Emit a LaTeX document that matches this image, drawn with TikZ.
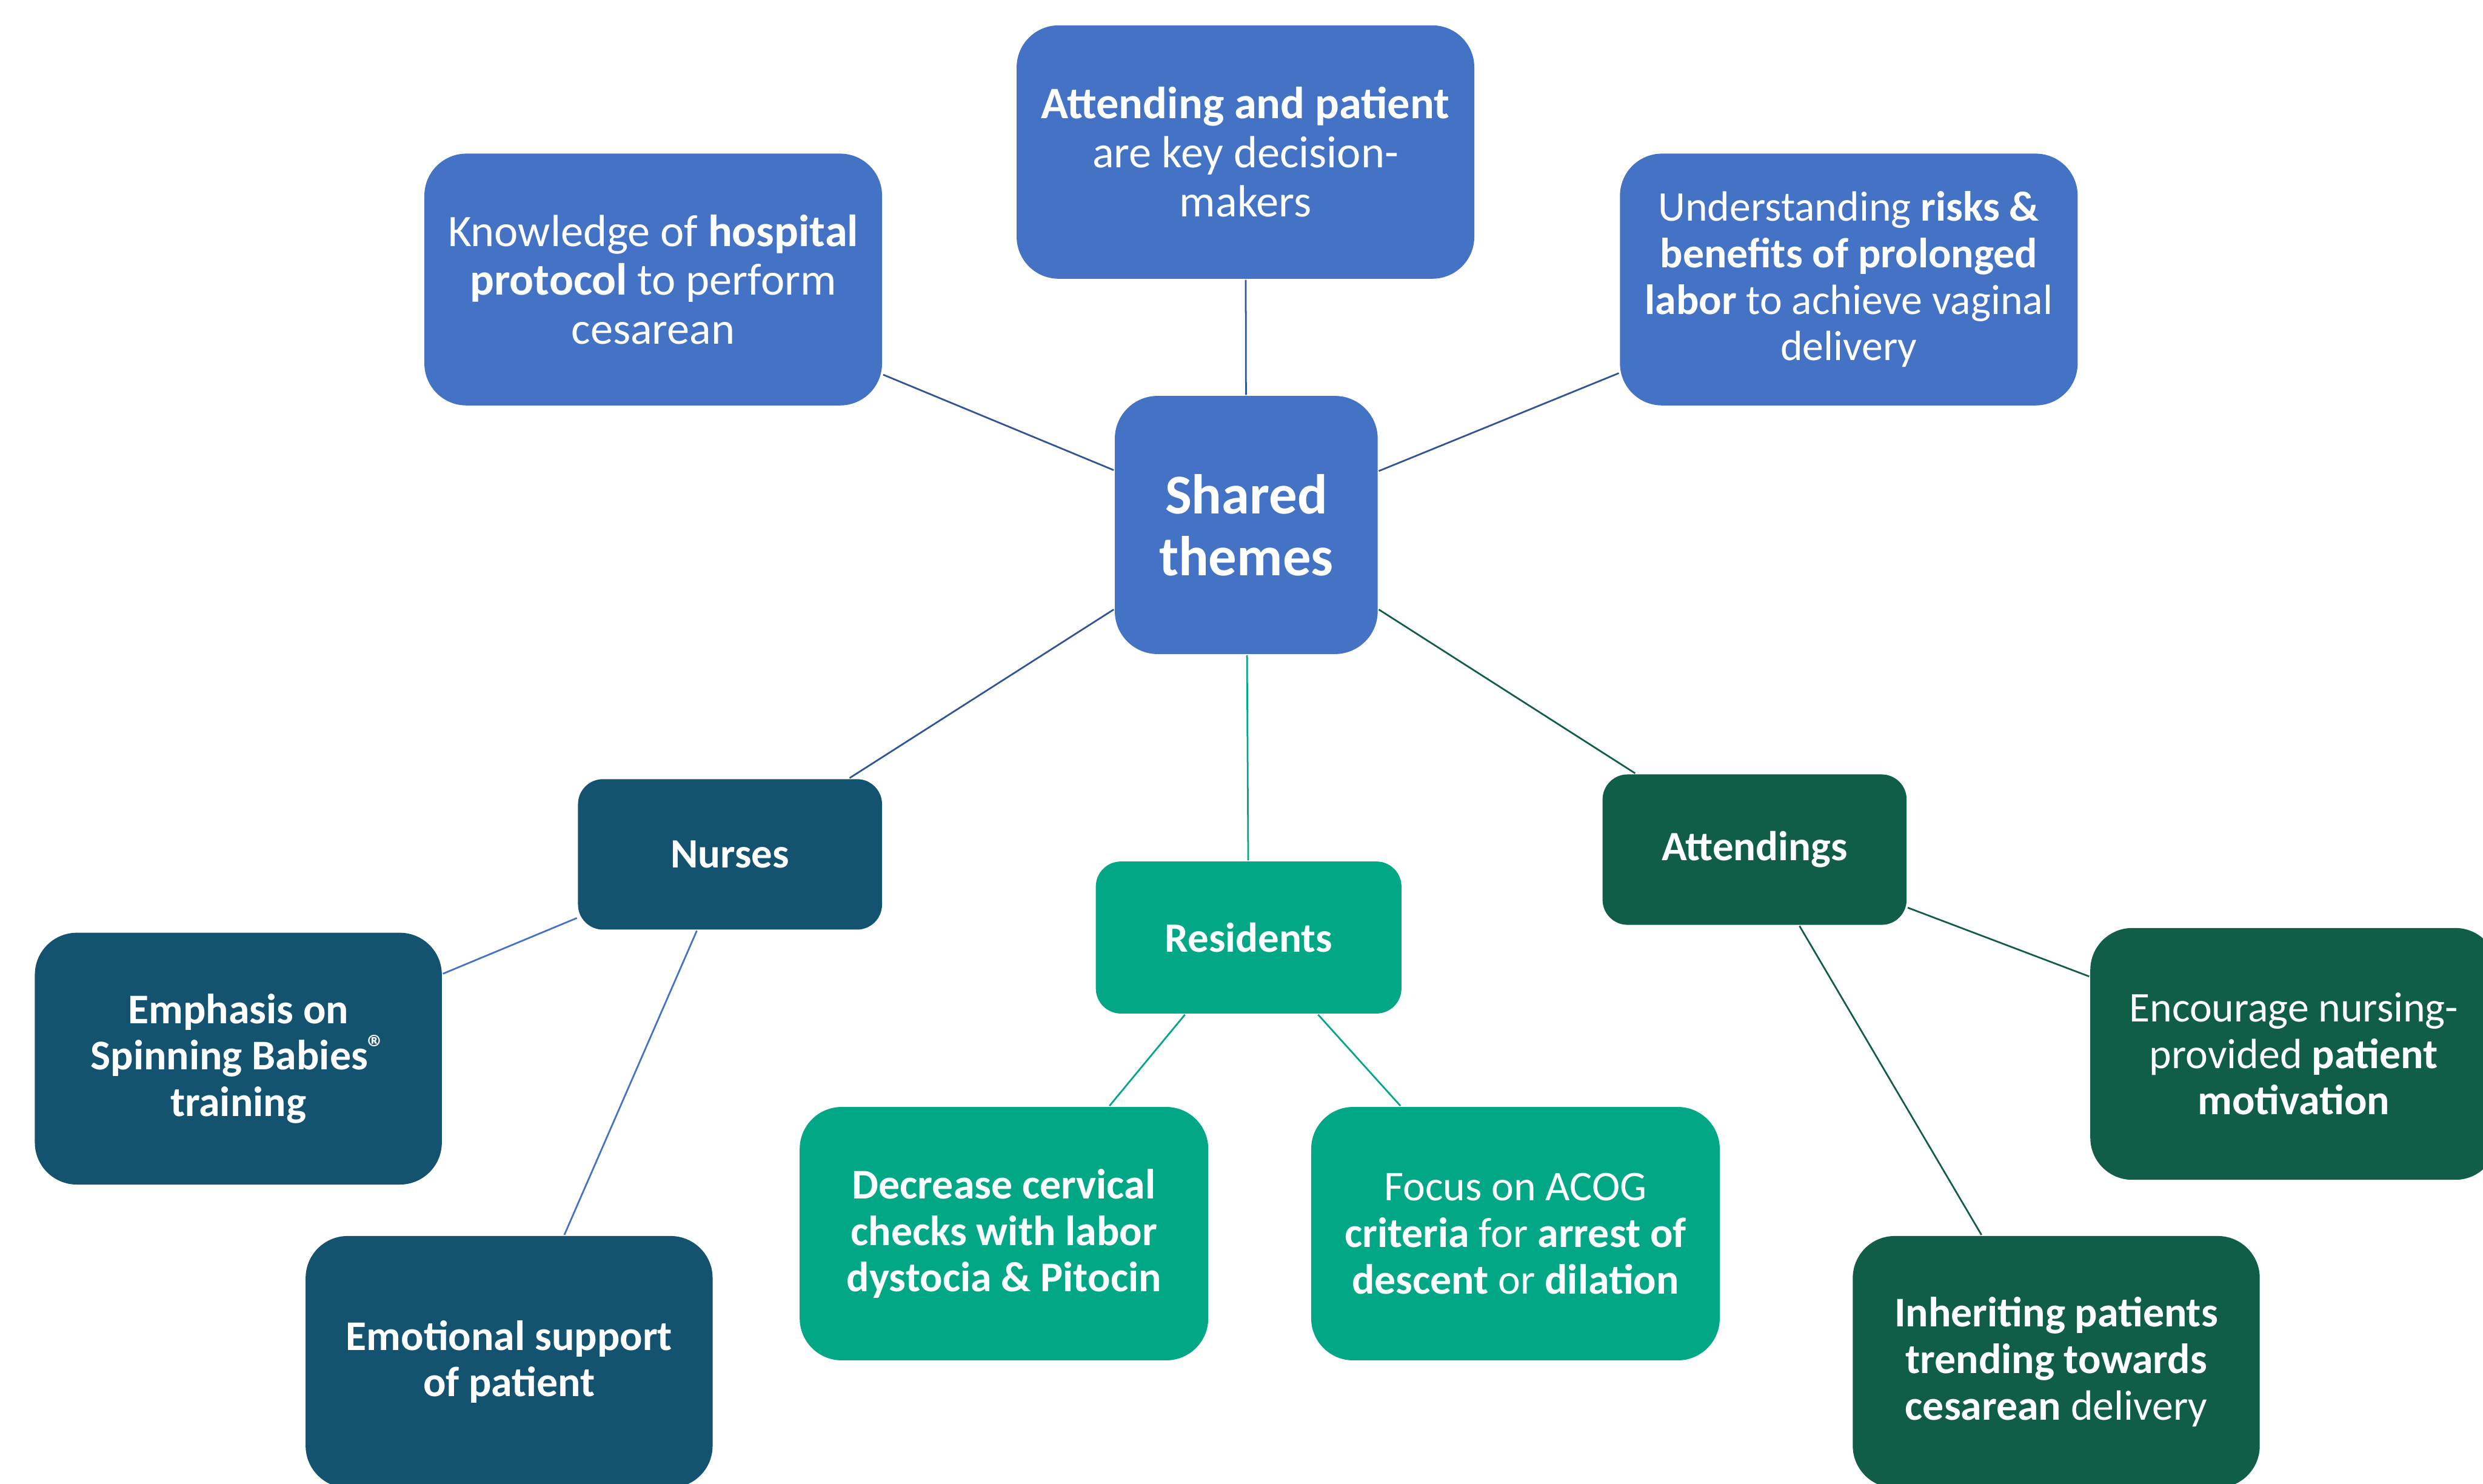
\documentclass[tikz,border=0pt]{standalone}
\usepackage{fontspec}
\setmainfont{Carlito}
\usepackage{xcolor}
\definecolor{themeblue}{HTML}{4472C4}
\definecolor{linkblue}{HTML}{2F5597}
\definecolor{nurseblue}{HTML}{145370}
\definecolor{resteal}{HTML}{02A886}
\definecolor{attgreen}{HTML}{105E47}

\tikzset{
  box/.style={rectangle,rounded corners=0.265cm,fill=#1,text=white,align=center,
    inner sep=0pt,minimum width=2.89cm,minimum height=1.59cm,
    font=\fontsize{7.6}{8.35}\selectfont},
  bigbox/.style={box=#1,font=\fontsize{8.1}{8.8}\selectfont},
  leaf/.style={box=#1,minimum width=2.57cm},
  group/.style={box=#1,rounded corners=0.158cm,minimum width=1.92cm,minimum height=0.95cm,
    font=\fontsize{7.5}{8.35}\selectfont\bfseries},
  link/.style={draw=#1,line width=0.3pt}
}

\begin{document}
\begin{tikzpicture}
\useasboundingbox (0,0) rectangle (15.68,-9.37);

% centre
\node[box=themeblue,rounded corners=0.27cm,minimum width=1.66cm,minimum height=1.63cm,
  font=\fontsize{10.1}{11.1}\selectfont\bfseries] (shared) at (7.87,-3.315) {Shared\\themes};

% top row
\node[bigbox=themeblue] (know) at (4.125,-1.765)
  {Knowledge of \textbf{hospital}\\\textbf{protocol} to perform\\cesarean};
\node[bigbox=themeblue,minimum height=1.60cm] (decide) at (7.865,-0.96)
  {\textbf{Attending and patient}\\are key decision-\\makers};
\node[box=themeblue] (risks) at (11.675,-1.765)
  {Understanding \textbf{risks \&}\\\textbf{benefits of prolonged}\\\textbf{labor} to achieve vaginal\\delivery};

% groups
\node[group=nurseblue] (nurses) at (4.61,-5.395) {Nurses};
\node[group=resteal,minimum width=1.93cm,minimum height=0.96cm] (residents) at (7.885,-5.92) {Residents};
\node[group=attgreen] (attendings) at (11.08,-5.365) {Attendings};

% nurses
\node[leaf=nurseblue,font=\fontsize{7.6}{8.35}\selectfont\bfseries] (spin) at (1.505,-6.685)
  {Emphasis on\\Spinning Babies\raisebox{0.5ex}{\fontsize{6.4}{6.4}\selectfont ®}\\training};
\node[leaf=nurseblue,font=\fontsize{7.6}{8.35}\selectfont\bfseries] (emot) at (3.215,-8.60)
  {Emotional support\\of patient};

% residents
\node[leaf=resteal,minimum width=2.58cm,minimum height=1.60cm,
  font=\fontsize{7.6}{8.35}\selectfont\bfseries] (cerv) at (6.34,-7.79)
  {Decrease cervical\\checks with labor\\dystocia \& Pitocin};
\node[leaf=resteal,minimum width=2.58cm,minimum height=1.60cm] (acog) at (9.57,-7.79)
  {Focus on ACOG\\\textbf{criteria} for \textbf{arrest of}\\\textbf{descent} or \textbf{dilation}};

% attendings
\node[leaf=attgreen] (motiv) at (14.485,-6.655)
  {Encourage nursing-\\provided \textbf{patient}\\\textbf{motivation}};
\node[leaf=attgreen] (inherit) at (12.985,-8.60)
  {\textbf{Inheriting patients}\\\textbf{trending towards}\\\textbf{cesarean} delivery};

% connectors
\draw[link=linkblue] (shared) -- (know);
\draw[link=linkblue] (shared) -- (decide);
\draw[link=linkblue] (shared) -- (risks);
\draw[link=linkblue] (shared) -- (nurses);
\draw[link=resteal] (shared) -- (residents);
\draw[link=attgreen] (shared) -- (attendings);
\draw[link=themeblue] (nurses) -- (spin);
\draw[link=themeblue] (nurses) -- (emot);
\draw[link=resteal] (residents) -- (cerv);
\draw[link=resteal] (residents) -- (acog);
\draw[link=attgreen] (attendings) -- (motiv);
\draw[link=attgreen] (attendings) -- (inherit);
\end{tikzpicture}
\end{document}
